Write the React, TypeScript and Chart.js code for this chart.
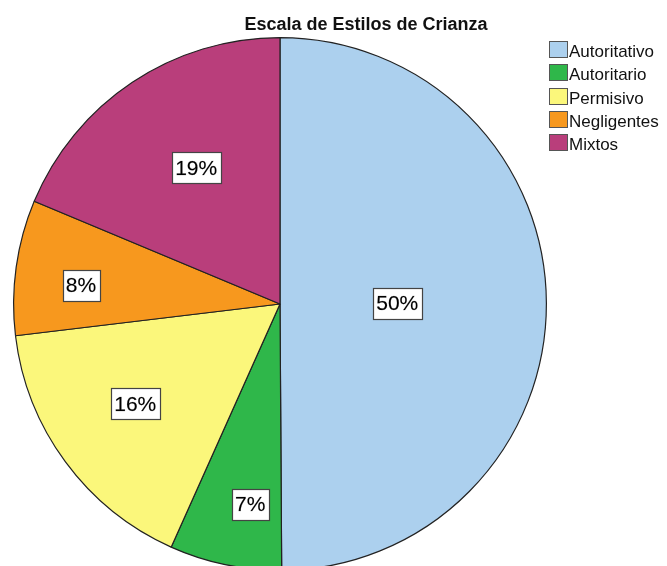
import React, { useEffect, useRef } from "react";
import { Chart, registerables } from "chart.js";

Chart.register(...registerables);

const title = "Escala de Estilos de Crianza";
const categories = ["Autoritativo", "Autoritario", "Permisivo", "Negligentes", "Mixtos"];
const percents = [49.9, 6.8, 16.4, 8.2, 18.7];
const colors = ["#acd0ee", "#2fb74a", "#fbf77b", "#f7981e", "#b93e7b"];
// label placement: fraction along slice angle, fraction of radius
const labelAngleFrac = [0.5, 0.36, 0.53, 0.41, 0.53];
const labelRadiusFrac = [0.44, 0.76, 0.66, 0.75, 0.6];

const W = 667;
const H = 600;

const overlay = {
  id: "overlay",
  afterDraw(chart: any) {
    const ctx = chart.ctx;
    const meta = chart.getDatasetMeta(0);
    const data = chart.data.datasets[0].data as number[];
    const total = data.reduce((a, b) => a + b, 0);
    ctx.save();
    // slice labels
    ctx.font = "21px 'Liberation Sans', Arial, sans-serif";
    ctx.textAlign = "center";
    ctx.textBaseline = "middle";
    meta.data.forEach((arc: any, i: number) => {
      const { x, y, startAngle, endAngle, outerRadius } = arc.getProps(
        ["x", "y", "startAngle", "endAngle", "outerRadius"],
        true
      );
      const a = startAngle + (endAngle - startAngle) * labelAngleFrac[i];
      const r = outerRadius * labelRadiusFrac[i];
      const lx = x + Math.cos(a) * r;
      const ly = y + Math.sin(a) * r;
      const txt = Math.round((data[i] / total) * 100) + "%";
      const tw = ctx.measureText(txt).width;
      const bw = Math.round(tw + 7);
      const bh = 31;
      const bx = Math.round(lx - bw / 2) + 0.5;
      const by = Math.round(ly - bh / 2) + 0.5;
      ctx.fillStyle = "#ffffff";
      ctx.fillRect(bx, by, bw, bh);
      ctx.strokeStyle = "#444444";
      ctx.lineWidth = 1.2;
      ctx.strokeRect(bx, by, bw, bh);
      ctx.fillStyle = "#000000";
      ctx.fillText(txt, lx, ly + 1);
      ctx.strokeStyle = "rgba(0,0,0,0.35)";
      ctx.lineWidth = 0.4;
      ctx.strokeText(txt, lx, ly + 1);
    });
    // title
    ctx.font = "bold 18px 'Liberation Sans', Arial, sans-serif";
    ctx.textAlign = "center";
    ctx.textBaseline = "alphabetic";
    ctx.fillStyle = "#111111";
    ctx.fillText(title, 366, 30);
    // legend
    ctx.font = "17px 'Liberation Sans', Arial, sans-serif";
    ctx.textAlign = "left";
    categories.forEach((c, i) => {
      const top = 41 + i * 23.3;
      const bx = 549.5;
      const by = Math.round(top) + 0.5;
      ctx.fillStyle = colors[i];
      ctx.fillRect(bx, by, 18, 16);
      ctx.strokeStyle = "#555555";
      ctx.lineWidth = 1;
      ctx.strokeRect(bx, by, 18, 16);
      ctx.fillStyle = "#111111";
      ctx.fillText(c, 569, Math.round(top) + 16);
    });
    ctx.restore();
  },
};

export default function App() {
  const ref = useRef<HTMLCanvasElement | null>(null);
  useEffect(() => {
    if (!ref.current) return;
    const chart = new Chart(ref.current, {
      type: "pie",
      data: {
        labels: categories,
        datasets: [
          {
            data: percents,
            backgroundColor: colors,
            borderColor: "#222222",
            borderWidth: 1.2,
          },
        ],
      },
      options: {
        responsive: false,
        animation: false,
        layout: { padding: { left: 13, top: 37, right: 120, bottom: 29 } },
        plugins: {
          legend: { display: false },
          title: { display: false },
          tooltip: { enabled: false },
        },
      },
      plugins: [overlay],
    });
    return () => chart.destroy();
  }, []);
  return (
    <div
      style={{
        position: "fixed",
        left: 0,
        top: 0,
        width: W,
        height: 566,
        overflow: "hidden",
        background: "#ffffff",
      }}
    >
      <canvas ref={ref} width={W} height={H} style={{ width: W, height: H, display: "block" }} />
    </div>
  );
}
